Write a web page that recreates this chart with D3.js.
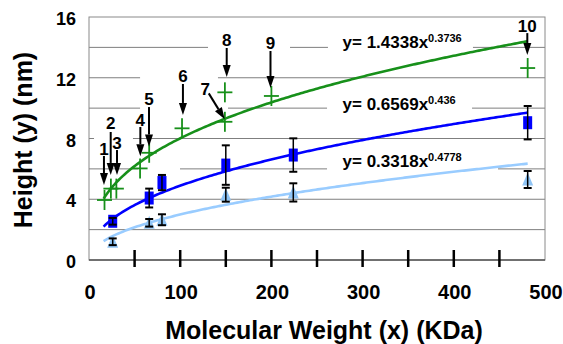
<!DOCTYPE html>
<html><head><meta charset="utf-8">
<script src="https://cdn.jsdelivr.net/npm/d3@7"></script>
<style>
body{margin:0;background:#fff}
text{font-family:Arial,"Liberation Sans",sans-serif;font-weight:bold;fill:#000}
</style>
</head><body>
<svg id="c" width="563" height="344"></svg>
<script>
// ---- data ----
const greenX = [17, 24, 30, 56, 66, 102, 149, 149, 200, 481];
const greenY = [3.95, 4.7, 4.7, 6.03, 7.06, 8.67, 9.1, 11.04, 10.8, 12.64];
const sampleX = [26, 66, 80, 150, 224, 481];
const blueY = [2.55, 4.08, 5.1, 6.25, 6.91, 9.04];
const blueErr = [0.22, 0.62, 0.5, 1.3, 1.1, 1.1];
const lightY = [1.2, 2.45, 2.65, 4.3, 4.45, 5.3];
const lightErr = [0.22, 0.25, 0.36, 0.46, 0.6, 0.56];
const fitA = [1.4338, 0.6569, 0.3318];
const fitB = [0.3736, 0.436, 0.4778];
const fitRange = [16, 481];
const eqMain = ["y= 1.4338x", "y= 0.6569x", "y= 0.3318x"];
const eqSup = ["0.3736", "0.436", "0.4778"];
const xTickLabels = [0, 100, 200, 300, 400, 500];
const xMinorTicks = [50, 100, 150, 200, 250, 300, 350, 400, 450];
const yTickLabels = [0, 4, 8, 12, 16];
const gridValues = [2, 4, 6, 8, 10, 12, 14];
const annText = ["1", "2", "3", "4", "5", "6", "7", "8", "9", "10"];
const annTextX = [16.4, 23.8, 30.7, 56.3, 65.8, 103, 127.5, 151, 199, 480.6];
const annTextY = [7.31, 9.02, 7.70, 9.22, 10.60, 12.11, 11.26, 14.48, 14.29, 15.4];
const annTailX = [16.4, 23.8, 30.7, 56.3, 65.8, 103, 131.3, 151, 199, 480.6];
const annTailY = [6.85, 8.43, 7.24, 8.76, 10.07, 11.59, 10.97, 13.96, 13.76, 14.94];
const annTipX = [16.4, 23.8, 30.7, 56.3, 65.8, 103, 148.8, 151, 199, 480.6];
const annTipY = [4.94, 5.60, 5.60, 6.83, 7.47, 9.55, 9.26, 12.05, 11.32, 13.5];
// gaps in gridlines where annotation boxes sit: [gridValue, x0, x1]
const gridGaps = [[14,130.5,220.4],[14,262,421],[12,56,141.4],[10,56,152.4],[10,261,420],[8,5.5,48.2],[6,53.7,99.8],[6,261,448.5]];

// ---- chart ----
const svg = d3.select("#c");
const L = 89, R = 545, T = 17, B = 260;
const x = d3.scaleLinear().domain([0, 500]).range([L, R]);
const y = d3.scaleLinear().domain([0, 16]).range([B, T]);

// gridlines
svg.append("g").selectAll("line").data(gridValues).join("line")
  .attr("x1", L).attr("x2", R).attr("y1", d => y(d)).attr("y2", d => y(d))
  .attr("stroke", "#7f7f7f").attr("stroke-width", 1);
svg.append("g").selectAll("rect").data(gridGaps).join("rect")
  .attr("x", d => x(d[1])).attr("width", d => x(d[2]) - x(d[1]))
  .attr("y", d => y(d[0]) - 2).attr("height", 4).attr("fill", "#fff");

// plot border
svg.append("rect").attr("x", L).attr("y", T).attr("width", R - L).attr("height", B - T)
  .attr("fill", "none").attr("stroke", "#8a8a8a").attr("stroke-width", 1);
svg.append("line").attr("x1", L).attr("x2", R).attr("y1", B).attr("y2", B)
  .attr("stroke", "#555").attr("stroke-width", 1.5);

// x ticks (crossing)
svg.append("g").selectAll("line").data(xMinorTicks).join("line")
  .attr("x1", d => x(d)).attr("x2", d => x(d)).attr("y1", B - 10).attr("y2", B + 7)
  .attr("stroke", "#000").attr("stroke-width", 2.5);

// x tick labels
svg.append("g").selectAll("text").data(xTickLabels).join("text")
  .attr("x", d => x(d) + 1).attr("y", 299).attr("text-anchor", "middle")
  .style("font-size", "20px").text(d => d);
// y tick labels
svg.append("g").selectAll("text").data(yTickLabels).join("text")
  .attr("x", 76).attr("y", d => y(d) + 8).attr("text-anchor", "end")
  .style("font-size", "18px").text(d => d);

// axis titles
svg.append("text").attr("x", 324).attr("y", 339).attr("text-anchor", "middle")
  .style("font-size", "25px").text("Molecular Weight (x) (KDa)");
svg.append("text").attr("transform", "translate(32,140) rotate(-90)").attr("text-anchor", "middle")
  .style("font-size", "25px").text("Height (y) (nm)");

// trendlines
const fitColors = ["#17901a", "#0000ff", "#99ccff"];
const xs = d3.range(0, 201).map(i => fitRange[0] + (fitRange[1] - fitRange[0]) * i / 200);
const lineGen = d3.line().x(d => x(d[0])).y(d => y(d[1])).curve(d3.curveLinear);
fitA.forEach((a, k) => {
  svg.append("path").datum(xs.map(v => [v, a * Math.pow(v, fitB[k])]))
    .attr("d", lineGen).attr("fill", "none").attr("stroke", fitColors[k]).attr("stroke-width", 2.6);
});

// light blue triangles
svg.append("g").selectAll("path").data(sampleX.map((v, i) => [v, lightY[i]])).join("path")
  .attr("d", d => { const cx = x(d[0]), cy = y(d[1]); return `M${cx},${cy-7}L${cx+5.5},${cy+6}L${cx-5.5},${cy+6}Z`; })
  .attr("fill", "#8fc4f5");
// blue squares
svg.append("g").selectAll("rect").data(sampleX.map((v, i) => [v, blueY[i]])).join("rect")
  .attr("x", d => x(d[0]) - 4.5).attr("y", d => y(d[1]) - 6.5).attr("width", 9).attr("height", 13)
  .attr("fill", "#0000ff");
// green crosses
const gc = svg.append("g").attr("stroke", "#17901a").attr("stroke-width", 1.8);
greenX.forEach((v, i) => {
  const cx = x(v), cy = y(greenY[i]);
  gc.append("line").attr("x1", cx - 7.5).attr("x2", cx + 7.5).attr("y1", cy).attr("y2", cy);
  gc.append("line").attr("x1", cx).attr("x2", cx).attr("y1", cy - 10).attr("y2", cy + 10);
});

// error bars
function errBars(vals, errs) {
  const g = svg.append("g").attr("stroke", "#000");
  sampleX.forEach((v, i) => {
    const cx = x(v), y1 = y(vals[i] + errs[i]), y2 = y(vals[i] - errs[i]);
    g.append("line").attr("x1", cx).attr("x2", cx).attr("y1", y1).attr("y2", y2).attr("stroke-width", 1.5);
    g.append("line").attr("x1", cx - 4).attr("x2", cx + 4).attr("y1", y1).attr("y2", y1).attr("stroke-width", 2);
    g.append("line").attr("x1", cx - 4).attr("x2", cx + 4).attr("y1", y2).attr("y2", y2).attr("stroke-width", 2);
  });
}
errBars(blueY, blueErr);
errBars(lightY, lightErr);

// annotation arrows
const ag = svg.append("g");
annText.forEach((t, i) => {
  const x0 = x(annTailX[i]), y0 = y(annTailY[i]), x1 = x(annTipX[i]), y1 = y(annTipY[i]);
  const dx = x1 - x0, dy = y1 - y0, len = Math.hypot(dx, dy), ux = dx / len, uy = dy / len;
  const hl = 12, hw = 4;
  const bx = x1 - ux * hl, by = y1 - uy * hl;
  ag.append("line").attr("x1", x0).attr("y1", y0).attr("x2", bx).attr("y2", by)
    .attr("stroke", "#000").attr("stroke-width", 2);
  ag.append("path").attr("d", `M${x1},${y1}L${bx - uy * hw},${by + ux * hw}L${bx + uy * hw},${by - ux * hw}Z`)
    .attr("fill", "#000");
  ag.append("text").attr("x", x(annTextX[i])).attr("y", y(annTextY[i]) + 6)
    .attr("text-anchor", "middle").style("font-size", "17px").text(t);
});

// equations
const eqY = [13.96, 9.87, 6.12];
eqMain.forEach((t, k) => {
  const tx = svg.append("text").attr("x", x(278)).attr("y", y(eqY[k])).style("font-size", "17px");
  tx.append("tspan").text(t);
  tx.append("tspan").attr("dy", -6).style("font-size", "11px").text(eqSup[k]);
});
</script>
</body></html>
